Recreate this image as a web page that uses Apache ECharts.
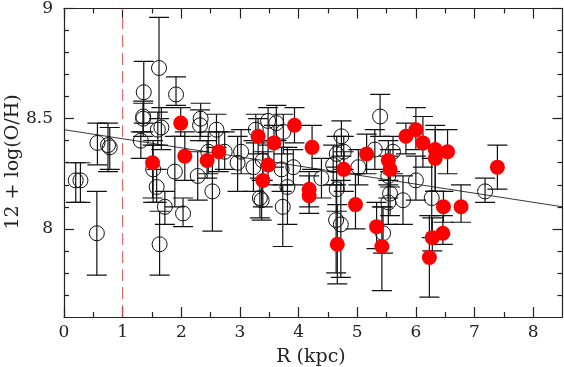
<!DOCTYPE html>
<html>
<head>
<meta charset="utf-8">
<script src="https://cdn.jsdelivr.net/npm/echarts@6/dist/echarts.min.js"></script>
<style>
html,body{margin:0;padding:0;background:#fff;}
#chart{width:564px;height:367px;}
</style>
</head>
<body>
<div id="chart"></div>
<script>
// ---- data ----
// open circles: R (kpc), 12+log(O/H), error low, error high
const openR  = [0.20,0.28,0.57,0.75,0.78,0.56,1.36,1.62,1.91,1.35,1.35,1.31,1.66,1.60,1.52,1.89,1.58,1.72,2.03,1.63,2.53,2.28,2.33,2.32,2.60,2.46,2.74,3.02,2.96,3.23,3.27,3.48,3.62,3.74,3.39,3.34,3.37,3.71,3.91,3.81,3.73,4.39,4.73,4.77,4.65,4.59,5.02,4.65,4.64,4.72,5.39,5.30,5.53,5.61,5.56,5.53,5.44,5.78,6.00,6.27,7.18];
const openOH = [8.22,8.22,8.39,8.38,8.37,7.98,8.62,8.73,8.61,8.50,8.51,8.40,8.46,8.45,8.27,8.26,8.19,8.10,8.07,7.93,8.17,8.24,8.50,8.47,8.45,8.35,8.35,8.35,8.30,8.28,8.45,8.49,8.48,8.44,8.31,8.14,8.13,8.27,8.28,8.19,8.10,8.23,8.42,8.35,8.34,8.29,8.28,8.18,8.04,8.02,8.51,8.36,8.24,8.35,8.16,8.12,7.98,8.13,8.22,8.14,8.17];
const openLo = [8.12,8.12,8.29,8.26,8.27,7.79,8.48,8.50,8.56,8.42,8.44,8.32,8.36,8.38,8.12,8.10,8.12,8.02,8.01,7.79,7.99,8.13,8.42,8.40,8.37,8.25,8.27,8.25,8.17,8.17,8.39,8.40,8.40,8.34,8.22,8.05,8.04,8.17,8.20,8.02,7.92,8.14,8.33,8.27,8.26,8.20,8.20,8.08,7.80,7.78,8.42,8.27,8.14,8.25,8.06,8.02,7.89,8.02,8.13,7.96,8.12];
const openHi = [8.30,8.30,8.48,8.48,8.46,8.17,8.76,8.96,8.69,8.58,8.57,8.44,8.55,8.53,8.40,8.42,8.27,8.17,8.14,8.08,8.33,8.35,8.57,8.54,8.52,8.44,8.44,8.45,8.42,8.40,8.52,8.55,8.56,8.52,8.40,8.23,8.22,8.37,8.36,8.37,8.20,8.32,8.49,8.42,8.42,8.38,8.36,8.28,8.20,8.22,8.61,8.45,8.33,8.42,8.26,8.20,8.10,8.24,8.33,8.32,8.23];
// filled red circles
const redR  = [1.51,1.99,2.06,2.44,2.64,3.31,3.39,3.48,3.58,3.93,4.23,4.18,4.18,4.77,4.66,4.97,5.16,5.33,5.42,5.53,5.56,5.83,6.00,6.12,6.33,6.33,6.54,7.39,6.47,6.77,6.46,6.28,6.23];
const redOH = [8.30,8.48,8.33,8.31,8.35,8.42,8.22,8.29,8.39,8.47,8.37,8.18,8.15,8.27,7.93,8.11,8.34,8.01,7.92,8.31,8.27,8.42,8.45,8.39,8.36,8.32,8.35,8.28,8.10,8.10,7.98,7.96,7.87];
const redLo = [8.14,8.42,8.22,8.23,8.26,8.34,8.10,8.20,8.28,8.39,8.27,8.10,8.07,8.17,7.75,8.00,8.25,7.91,7.72,8.22,8.19,8.34,8.36,8.28,8.17,8.17,8.25,8.18,8.03,8.03,7.93,7.90,7.69];
const redHi = [8.38,8.55,8.44,8.40,8.44,8.50,8.35,8.38,8.47,8.55,8.47,8.26,8.24,8.35,8.11,8.25,8.43,8.12,8.10,8.40,8.36,8.48,8.55,8.51,8.47,8.45,8.45,8.38,8.17,8.20,8.06,8.05,8.06];
// linear fit end points and dashed marker at R = 1 kpc
const fitR  = [0, 8.5];
const fitOH = [8.45, 8.10];
const cutR  = [1, 1];
const cutOH = [7.6, 9];
// ticks
const xMajor = [0,1,2,3,4,5,6,7,8];
const xMinor = [0.5,1.5,2.5,3.5,4.5,5.5,6.5,7.5];
const yMajor = [8, 8.5, 9];
const yMinor = [7.7,7.8,7.9,8.1,8.2,8.3,8.4,8.6,8.7,8.8,8.9];

// ---- chart ----
const FONT = 'DejaVu Serif';
const ink = '#222';
const zip = (a,b) => a.map((v,i)=>[v,b[i]]);
const zip3 = (a,b,c) => a.map((v,i)=>[v,b[i],c[i]]);

const lineStyle = {color: ink, width: 1.2};
function xAx(pos, ticks, len, showLine, showLabel){
  return {type:'value', min:0, max:8.5, position:pos, gridIndex:0,
    splitLine:{show:false},
    axisLine:{show:showLine, onZero:false, lineStyle:lineStyle},
    axisTick:{show:true, inside:true, length:len, customValues:ticks, lineStyle:lineStyle},
    axisLabel:{show:showLabel, customValues:ticks, margin:7, fontFamily:FONT, fontSize:17, color:ink}};
}
function yAx(pos, ticks, len, showLine, showLabel){
  return {type:'value', min:7.6, max:9, position:pos, gridIndex:0,
    splitLine:{show:false},
    axisLine:{show:showLine, onZero:false, lineStyle:lineStyle},
    axisTick:{show:true, inside:true, length:len, customValues:ticks, lineStyle:lineStyle},
    axisLabel:{show:showLabel, customValues:ticks, margin:11, fontFamily:FONT, fontSize:17, color:ink}};
}

function errRender(params, api){
  const x = api.value(0), lo = api.value(1), hi = api.value(2);
  const a = api.coord([x, lo]), b = api.coord([x, hi]);
  const hw = 10;
  const st = {stroke:'#111', lineWidth:1.2};
  return {type:'group', children:[
    {type:'line', shape:{x1:a[0], y1:a[1], x2:b[0], y2:b[1]}, style:st},
    {type:'line', shape:{x1:a[0]-hw, y1:a[1], x2:a[0]+hw, y2:a[1]}, style:st},
    {type:'line', shape:{x1:b[0]-hw, y1:b[1], x2:b[0]+hw, y2:b[1]}, style:st}
  ]};
}

const chart = echarts.init(document.getElementById('chart'), null, {renderer:'canvas'});
chart.setOption({
  animation:false,
  backgroundColor:'#fff',
  grid:{left:64, top:7, width:498.5, height:310},
  xAxis:[
    xAx('bottom', xMajor, 10, true, true),
    xAx('bottom', xMinor, 5, false, false),
    xAx('top', xMajor, 10, true, false),
    xAx('top', xMinor, 5, false, false)
  ],
  yAxis:[
    yAx('left', yMajor, 10, true, true),
    yAx('left', yMinor, 5, false, false),
    yAx('right', yMajor, 10, true, false),
    yAx('right', yMinor, 5, false, false)
  ],
  graphic:[
    {type:'text', x:311, y:357, style:{text:'R (kpc)', font:'19px "DejaVu Serif"', fill:ink, align:'center', verticalAlign:'middle'}},
    {type:'text', x:13, y:162, rotation:Math.PI/2, style:{text:'12 + log(O/H)', font:'19px "DejaVu Serif"', fill:ink, align:'center', verticalAlign:'middle'}}
  ],
  series:[
    {type:'line', data:zip(fitR, fitOH), symbol:'none', lineStyle:{color:'#222', width:0.9}, z:1, silent:true},
    {type:'line', data:zip(cutR, cutOH), symbol:'none', lineStyle:{color:'#e05050', width:1, type:[12,6]}, z:1, silent:true},
    {type:'custom', renderItem:errRender, data:zip3(openR, openLo, openHi), encode:{x:0, y:[1,2]}, z:2, clip:true},
    {type:'custom', renderItem:errRender, data:zip3(redR, redLo, redHi), encode:{x:0, y:[1,2]}, z:2, clip:true},
    {type:'scatter', data:zip(openR, openOH), symbol:'circle', symbolSize:15,
      itemStyle:{color:'rgba(0,0,0,0)', borderColor:'#111', borderWidth:1, opacity:1}, z:3},
    {type:'scatter', data:zip(redR, redOH), symbol:'circle', symbolSize:15,
      itemStyle:{color:'#ff0000', borderWidth:0, opacity:1}, z:4}
  ]
});
</script>
</body>
</html>
